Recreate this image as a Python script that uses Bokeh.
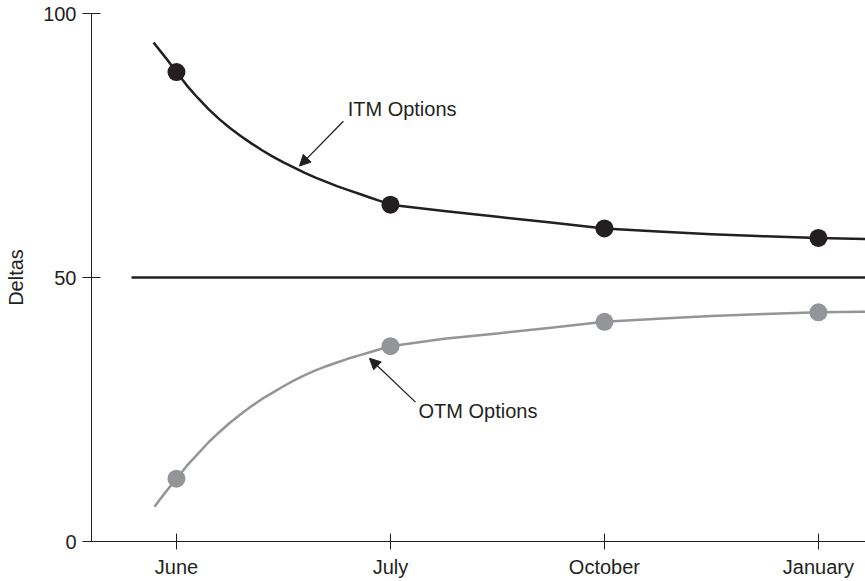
from bokeh.plotting import figure
from bokeh.models import FixedTicker, Label, Arrow, NormalHead
from bokeh.embed import file_html
from bokeh.resources import INLINE

# ---- data ----
months = ["June", "July", "October", "January"]
month_pos = [0, 1, 2, 3]
itm_points = [88.9, 63.8, 59.3, 57.5]
otm_points = [11.9, 37.0, 41.6, 43.4]

# smooth curves (x in month positions)
itm_curve_x = [-0.107, -0.05, 0.0, 0.05, 0.1, 0.15, 0.2, 0.25, 0.3, 0.35, 0.4,
               0.45, 0.5, 0.55, 0.6, 0.65, 0.7, 0.75, 0.8, 0.85, 0.9, 0.95, 1.0,
               1.25, 1.5, 1.75, 2.0, 2.25, 2.5, 2.75, 3.0, 3.22]
itm_curve_y = [94.5, 91.6, 88.9, 86.3, 84.0, 81.9, 80.0, 78.3, 76.8, 75.4, 74.1,
               72.9, 71.8, 70.8, 69.8, 68.9, 68.1, 67.3, 66.6, 65.9, 65.2, 64.5, 63.8,
               62.6, 61.5, 60.4, 59.3, 58.7, 58.2, 57.8, 57.5, 57.3]
otm_curve_x = [-0.103, -0.05, 0.0, 0.05, 0.1, 0.15, 0.2, 0.25, 0.3, 0.35, 0.4,
               0.45, 0.5, 0.55, 0.6, 0.65, 0.7, 0.75, 0.8, 0.85, 0.9, 0.95, 1.0,
               1.25, 1.5, 1.75, 2.0, 2.25, 2.5, 2.75, 3.0, 3.22]
otm_curve_y = [6.6, 9.4, 11.9, 14.4, 16.6, 18.8, 20.7, 22.5, 24.1, 25.6, 27.0,
               28.2, 29.4, 30.5, 31.5, 32.4, 33.2, 33.9, 34.6, 35.2, 35.8, 36.4, 37.0,
               38.4, 39.4, 40.5, 41.6, 42.2, 42.7, 43.1, 43.4, 43.5]
mid_line_x = [-0.21, 3.22]
mid_line_y = [50, 50]
y_ticks = [0, 50, 100]

BLACK = "#231f20"
GRAY = "#939598"
FONT = "Liberation Sans"

p = figure(width=865, height=581, x_range=(-0.397, 3.22), y_range=(0, 100),
           output_backend="svg", toolbar_location=None,
           min_border_top=13, min_border_right=0, min_border_left=91,
           min_border_bottom=40)
p.outline_line_color = None
p.xgrid.visible = False
p.ygrid.visible = False
p.background_fill_color = "white"
p.border_fill_color = "white"

# lines
p.line(mid_line_x, mid_line_y, line_color=BLACK, line_width=2.5)
p.line(itm_curve_x, itm_curve_y, line_color=BLACK, line_width=2.5, line_join="round")
p.line(otm_curve_x, otm_curve_y, line_color=GRAY, line_width=2.5, line_join="round")
p.scatter(month_pos, itm_points, size=18, fill_color=BLACK, line_color=None)
p.scatter(month_pos, otm_points, size=18, fill_color=GRAY, line_color=None)

# annotations
p.add_layout(Label(x=0.80, y=81.9, text="ITM Options", text_baseline="middle",
                   text_font=FONT, text_font_size="20px", text_color=BLACK))
p.add_layout(Label(x=1.131, y=24.7, text="OTM Options", text_baseline="middle",
                   text_font=FONT, text_font_size="20px", text_color=BLACK))
p.add_layout(Arrow(end=NormalHead(size=11, fill_color=BLACK, line_color=BLACK, line_width=1),
                   x_start=0.780, y_start=79.6, x_end=0.575, y_end=71.1,
                   line_color=BLACK, line_width=1.3))
p.add_layout(Arrow(end=NormalHead(size=11, fill_color=BLACK, line_color=BLACK, line_width=1),
                   x_start=1.117, y_start=26.4, x_end=0.902, y_end=34.7,
                   line_color=BLACK, line_width=1.3))

# x axis
xa = p.xaxis[0]
xa.ticker = FixedTicker(ticks=month_pos)
xa.major_label_overrides = {pos: m for pos, m in zip(month_pos, months)}
xa.minor_tick_line_color = None
xa.major_tick_in = 8
xa.major_tick_out = 8
xa.major_label_standoff = 6
xa.axis_line_color = BLACK
xa.major_tick_line_color = BLACK
xa.major_label_text_font = FONT
xa.major_label_text_font_size = "20px"
xa.major_label_text_color = BLACK

# y axis
ya = p.yaxis[0]
ya.ticker = FixedTicker(ticks=y_ticks)
ya.minor_tick_line_color = None
ya.major_tick_in = 9
ya.major_tick_out = 9
ya.major_label_standoff = 6
ya.axis_line_color = BLACK
ya.major_tick_line_color = BLACK
ya.major_label_text_font = FONT
ya.major_label_text_font_size = "20px"
ya.major_label_text_color = BLACK
ya.axis_label = "Deltas"
ya.axis_label_text_font = FONT
ya.axis_label_text_font_size = "20px"
ya.axis_label_text_font_style = "normal"
ya.axis_label_text_color = BLACK
ya.axis_label_standoff = 13

open("out.html", "w").write(file_html(p, INLINE))
